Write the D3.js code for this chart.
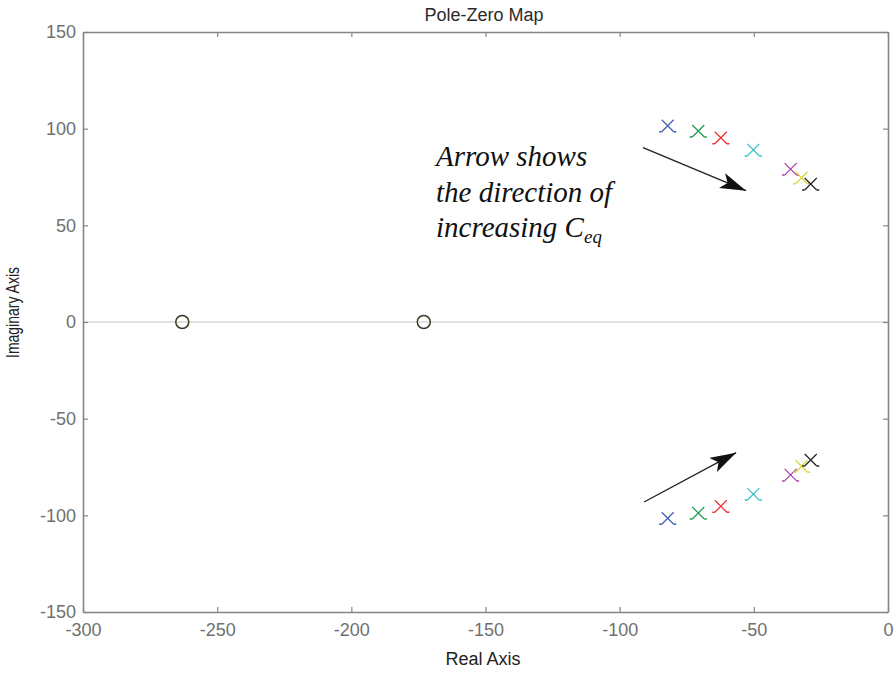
<!DOCTYPE html>
<html>
<head>
<meta charset="utf-8">
<script src="https://cdn.jsdelivr.net/npm/d3@7"></script>
<style>
  html, body { margin: 0; padding: 0; background: #fff; }
  svg { display: block; }
</style>
</head>
<body>
<svg id="chart" width="896" height="673"></svg>
<script>
// Pole-zero map data
const xTicks = [-300, -250, -200, -150, -100, -50, 0];
const yTicks = [-150, -100, -50, 0, 50, 100, 150];
const zeroRe = [-263, -173];
const zeroIm = [0, 0];
const poleRe = [-82.1, -70.7, -62.3, -50.2, -36.3, -32.2, -28.8];
const poleIm = [101.5, 98.8, 95.3, 89.0, 79.1, 74.6, 71.4];
const poleColors = ["#3a5fb0", "#1a9a4a", "#ee2a2a", "#2bbcc0", "#a83aa8", "#d8d83a", "#222222"];
const arrowFrom = [[-91.3, 90.2], [-90.9, -93.1]];
const arrowTo = [[-52.9, 67.9], [-56.6, -67.6]];
const noteLines = ["Arrow shows", "the direction of", "increasing C"];

const svg = d3.select("#chart");
const plotLeft = 83, plotRight = 888, plotTop = 32, plotBottom = 612;

const x = d3.scaleLinear().domain([-300, 0]).range([plotLeft, plotRight]);
const y = d3.scaleLinear().domain([-150, 150]).range([plotBottom, plotTop]);

const axisColor = "#858585";
const labelFont = "Liberation Sans, Arial, sans-serif";
const fmt = d => String(d);

// zero line on the real axis
svg.append("line")
  .attr("x1", x(-300)).attr("x2", x(0))
  .attr("y1", y(0)).attr("y2", y(0))
  .attr("stroke", "#c4c4c4").attr("stroke-width", 1.2);

// axes: ticks point inward on all four sides
function styleAxis(g) {
  g.selectAll(".domain").attr("stroke", axisColor).attr("stroke-width", 1.6);
  g.selectAll(".tick line").attr("stroke", axisColor).attr("stroke-width", 1.2);
  g.selectAll(".tick text").attr("fill", "#707070")
    .attr("font-family", labelFont).attr("font-size", 18);
}

svg.append("g").attr("transform", `translate(0,${plotBottom})`)
  .call(d3.axisBottom(x).tickValues(xTicks).tickFormat(fmt).tickSizeInner(-5).tickSizeOuter(0).tickPadding(11))
  .call(styleAxis);
svg.append("g").attr("transform", `translate(0,${plotTop})`)
  .call(d3.axisTop(x).tickValues(xTicks).tickSizeInner(-5).tickSizeOuter(0).tickFormat(""))
  .call(styleAxis);
svg.append("g").attr("transform", `translate(${plotLeft},0)`)
  .call(d3.axisLeft(y).tickValues(yTicks).tickFormat(fmt).tickSizeInner(-5).tickSizeOuter(0).tickPadding(7))
  .call(styleAxis);
svg.append("g").attr("transform", `translate(${plotRight},0)`)
  .call(d3.axisRight(y).tickValues(yTicks).tickSizeInner(-5).tickSizeOuter(0).tickFormat(""))
  .call(styleAxis);

// titles
svg.append("text").attr("x", 484).attr("y", 21)
  .attr("text-anchor", "middle").attr("font-family", labelFont)
  .attr("font-size", 18).attr("fill", "#2a2a2a").text("Pole-Zero Map");
svg.append("text").attr("x", 483).attr("y", 665)
  .attr("text-anchor", "middle").attr("font-family", labelFont)
  .attr("font-size", 18).attr("fill", "#222").text("Real Axis");
svg.append("text")
  .attr("transform", `translate(19,312.5) rotate(-90)`)
  .attr("text-anchor", "middle").attr("font-family", labelFont)
  .attr("font-size", 18).attr("fill", "#222")
  .attr("textLength", 91).attr("lengthAdjust", "spacingAndGlyphs")
  .text("Imaginary Axis");

// zeros
svg.append("g").selectAll("circle")
  .data(d3.zip(zeroRe, zeroIm))
  .join("circle")
  .attr("cx", d => x(d[0])).attr("cy", d => y(d[1]))
  .attr("r", 6.5).attr("fill", "none")
  .attr("stroke", "#3b3a22").attr("stroke-width", 1.5);

// poles: each is a complex-conjugate pair drawn as x markers
const poles = [];
poleRe.forEach((re, i) => {
  poles.push({ re, im: poleIm[i], c: poleColors[i] });
  poles.push({ re, im: -poleIm[i], c: poleColors[i] });
});
const s = 6;
const pg = svg.append("g").selectAll("g")
  .data(poles).join("g")
  .attr("transform", d => `translate(${x(d.re)},${y(d.im)})`)
  .attr("stroke", d => d.c).attr("stroke-width", 1.2).attr("fill", "none");
pg.append("path").attr("d", `M${-s},${-s}L${s},${s}M${-s},${s}L${s},${-s}`);
pg.append("path").attr("d", `M${-s},${s}h-2.5M${s},${s}h2.5`).attr("stroke-width", 1.5);

// direction arrows
const defs = svg.append("defs");
defs.append("marker")
  .attr("id", "head").attr("viewBox", "0 0 26 16")
  .attr("refX", 26).attr("refY", 8)
  .attr("markerWidth", 26).attr("markerHeight", 16)
  .attr("markerUnits", "userSpaceOnUse").attr("orient", "auto")
  .append("path").attr("d", "M0,0 L26,8 L0,16 L6,8 Z").attr("fill", "#111");

svg.append("g").selectAll("line")
  .data(d3.zip(arrowFrom, arrowTo)).join("line")
  .attr("x1", d => x(d[0][0])).attr("y1", d => y(d[0][1]))
  .attr("x2", d => x(d[1][0])).attr("y2", d => y(d[1][1]))
  .attr("stroke", "#222").attr("stroke-width", 1.4)
  .attr("marker-end", "url(#head)");

// annotation
noteLines.forEach((t, i) => {
  const line = svg.append("text")
    .attr("x", 436).attr("y", 166 + i * 35.5)
    .attr("font-family", "Liberation Serif, Times New Roman, serif")
    .attr("font-style", "italic").attr("font-size", 29).attr("fill", "#111");
  line.append("tspan").text(t);
  if (i === noteLines.length - 1) {
    line.append("tspan").attr("dy", 6).attr("font-size", 19).text("eq");
  }
});
</script>
</body>
</html>
